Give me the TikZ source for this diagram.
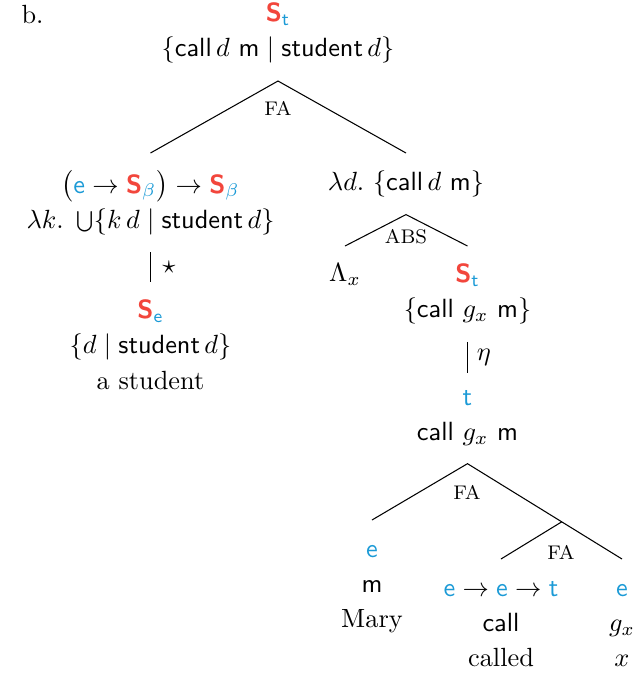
\documentclass[tikz,border=0pt]{standalone}
\usepackage{amsmath,amssymb}
\usepackage{graphicx}
\usepackage{tikz}
\usetikzlibrary{positioning,calc}
\usepackage{xcolor}

\definecolor{sred}{HTML}{F2463C}
\definecolor{tblue}{HTML}{1B9AD6}
\newcommand{\tyS}[1]{\ensuremath{\textcolor{sred}{\textsf{\textbf{S}}}_{\textcolor{tblue}{#1}}}}
\newcommand{\tye}{\textcolor{tblue}{\textsf{e}}}
\newcommand{\tyt}{\textcolor{tblue}{\textsf{t}}}
\newcommand{\Union}{\mathop{\raisebox{0.1ex}{\scalebox{0.78}{$\bigcup$}}}}

\begin{document}
\begin{tikzpicture}[
x=0.38pt,
y=-0.38pt,
tree/.style={
align=center,
inner xsep=1pt,
inner ysep=6.5pt,
font=\fontsize{10}{13.4}\selectfont
},
rule/.style={
font=\fontsize{7.5}{9}\selectfont,
inner sep=1pt
}
]
\useasboundingbox (0,0) rectangle (638,674);

\node[anchor=base west,inner sep=0pt] (lbl) at (21,23) {b.};

% top of the tree
\node[tree,anchor=south] (root) at (278,81)
  {\tyS{\mathsf{t}}\\ $\{\textsf{call}\,d\ \textsf{m}\mid\textsf{student}\,d\}$};
\node[tree,anchor=north] (lk) at (150.5,153)
  {$\bigl(\tye\to\tyS{\beta}\bigr)\to\tyS{\beta}$\\
   $\lambda k.\ \Union\{k\,d\mid\textsf{student}\,d\}$};
\node[tree,anchor=north] (ld) at (406,153)
  {$\lambda d.\ \{\textsf{call}\,d\ \textsf{m}\}$};
\node[rule] (fa) at (278,108) {FA};

% left branch
\node[tree,anchor=north] (se) at (150.5,282)
  {\tyS{\mathsf{e}}\\ $\{d\mid\textsf{student}\,d\}$\\ a student};

% right branch
\node[tree,anchor=north] (lam) at (345,246) {$\Lambda_x$};
\node[tree,anchor=north] (st) at (467.5,246)
  {\tyS{\mathsf{t}}\\ $\{\textsf{call}\ g_x\ \textsf{m}\}$};
\node[rule] (abs) at (406,237) {ABS};
\node[tree,anchor=north] (t) at (467.5,373)
  {\tyt\\ $\textsf{call}\ g_x\ \textsf{m}$};

% bottom
\node[tree,anchor=north] (m) at (372,520)
  {\vphantom{(}\tye\\ \textsf{m}\\ Mary};
\node[tree,anchor=north] (call) at (501,559)
  {$\vphantom{(}\tye\to\tye\to\tyt$\\ \textsf{call}\\ called};
\node[tree,anchor=north] (gx) at (622,559)
  {\vphantom{(}\tye\\ $g_x$\\ $x$};
\coordinate (fa3) at ($(t.south)!0.61!(gx.north)$);
\node[rule] (fa2) at (467,492) {FA};
\node[rule] (fa4) at (561,552) {FA};

\draw (lk.north) -- (root.south) -- (ld.north);
\draw (lk.south) -- node[right=1pt]{$\star$} (se.north);
\draw (lam.north) -- (ld.south) -- (st.north);
\draw (st.south) -- node[right=0pt]{$\eta$} (t.north);
\draw (m.north) -- (t.south) -- (fa3) -- (gx.north);
\draw (fa3) -- (call.north);

\end{tikzpicture}
\end{document}
